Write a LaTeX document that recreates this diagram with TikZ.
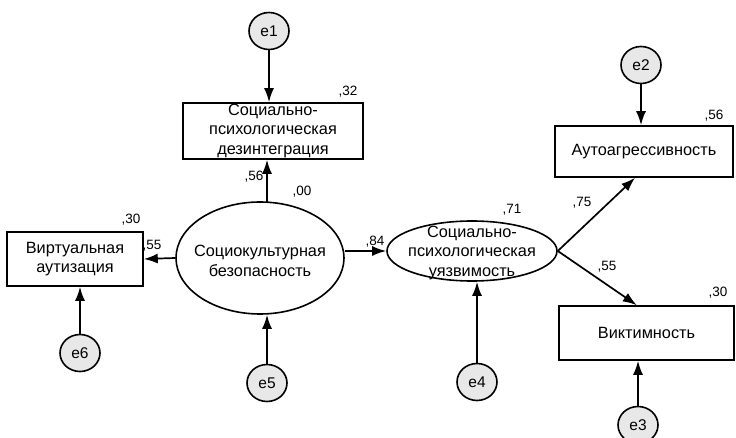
\documentclass[tikz,border=0pt]{standalone}
\usepackage{fontspec}
\setmainfont{Liberation Sans}
\usetikzlibrary{shapes.geometric,arrows.meta,calc}
\begin{document}
\begin{tikzpicture}[x=1pt,y=-1pt,
  lbl/.style={font=\fontsize{16.3}{19.5}\selectfont, align=center},
  obs/.style={draw, line width=1.6pt, rectangle, inner sep=0pt, lbl},
  lat/.style={draw, line width=1.6pt, ellipse, inner sep=0pt},
  txt/.style={lbl, inner sep=0pt},
  err/.style={draw, line width=1.6pt, ellipse, fill=gray!18, minimum width=40pt, minimum height=37pt, inner sep=0pt, font=\fontsize{15.5}{17}\selectfont},
  arr/.style={line width=1.7pt, -{Latex[length=14pt,width=10pt]}},
  num/.style={font=\fontsize{13.5}{15}\selectfont, inner sep=0pt}]
\useasboundingbox (0,0) rectangle (736,438);
% observed
\node[obs, minimum width=180pt, minimum height=56pt] (dez) at (273,131) {Социально-\\психологическая\\дезинтеграция};
\node[obs, minimum width=136pt, minimum height=54pt] (virt) at (75,259) {Виртуальная\\аутизация};
\node[obs, minimum width=178pt, minimum height=51pt] (auto) at (644,151.5) {Аутоагрессивность};
\node[obs, minimum width=175pt, minimum height=54pt] (vikt) at (646.5,333) {Виктимность};
% latent
\node[lat, minimum width=168pt, minimum height=112pt] (bez) at (260,258) {};
\node[txt] (bezt) at (260,261) {Социокультурная\\безопасность};
\node[lat, minimum width=170pt, minimum height=60pt] (uyaz) at (472,251) {};
\node[txt, font=\fontsize{16.3}{19.5}\selectfont] (uyazt) at (472,253) {Социально-\\психологическая\\уязвимость};
% errors
\node[err] (e1) at (269,31) {e1};
\node[err] (e2) at (641,65) {e2};
\node[err] (e3) at (638,425) {e3};
\node[err] (e4) at (477,382) {e4};
\node[err] (e5) at (267,383) {e5};
\node[err] (e6) at (80,353) {e6};
% arrows
\coordinate (btop) at ($(bez.north)+(7,0.4)$);
\draw[arr] (e1.south) -- (e1.south |- dez.north);
\draw[arr] (btop) -- (btop |- dez.south);
\draw[arr] (bez.west) -- (virt.east);
\draw[arr] (e6.north) -- (e6.north |- virt.south);
\draw[arr] (e5.north) -- (e5.north |- bez.south);
\draw[arr] (bez.east |- uyaz.west) -- (uyaz.west);
\draw[arr] (e4.north) -- (e4.north |- uyaz.south);
\coordinate (aend) at ($(auto.south west)!0.45!(auto.south east)$);
\coordinate (vend) at ($(vikt.north west)!0.445!(vikt.north east)$);
\draw[arr] (uyaz.east) -- (aend);
\draw[arr] (uyaz.east) -- (vend);
\draw[arr] (e2.south) -- (e2.south |- auto.north);
\draw[arr] (e3.north) -- (e3.north |- vikt.south);
% numbers
\node[num] (n32) at (348,92) {,32};
\node[num] (n56a) at (254,177) {,56};
\node[num] (n00) at (302,192) {,00};
\node[num] (n30a) at (131,220) {,30};
\node[num] (n55a) at (152,246) {,55};
\node[num] (n84) at (375,242) {,84};
\node[num] (n71) at (512,210) {,71};
\node[num] (n75) at (582,203) {,75};
\node[num] (n55b) at (607,267) {,55};
\node[num] (n56b) at (714,116) {,56};
\node[num] (n30b) at (718,293) {,30};
\end{tikzpicture}
\end{document}
